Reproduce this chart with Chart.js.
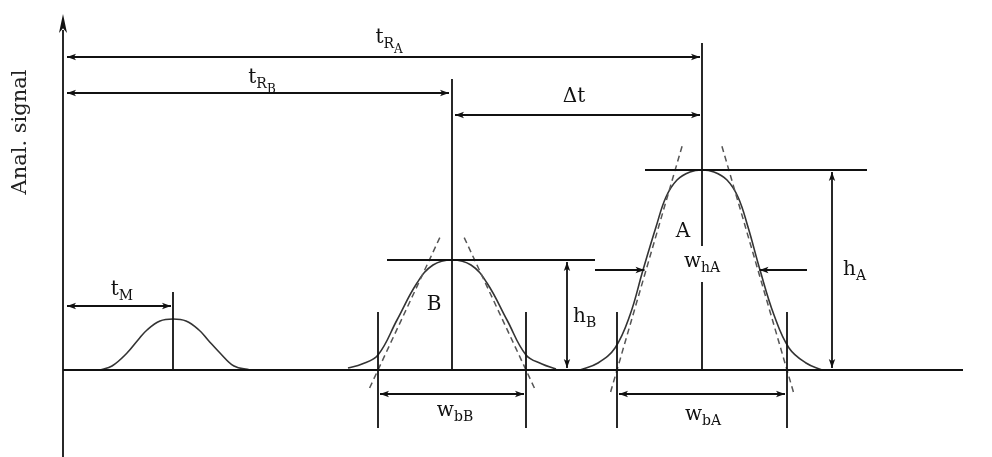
<!DOCTYPE html>
<html>
<head>
<meta charset="utf-8">
<script src="https://cdn.jsdelivr.net/npm/chart.js@4.4.1/dist/chart.umd.min.js"></script>
<style>
  html, body { margin: 0; padding: 0; background: #fff; }
  #wrap { width: 992px; height: 457px; }
</style>
</head>
<body>
<div id="wrap"><canvas id="chromChart" width="992" height="457"></canvas></div>
<script>
// Хроматограмма: время от старта (t) и высота сигнала (s)
const peakNames = ['M', 'B', 'A'];
const retentionTimes = [110, 389, 639];
const peakHeights = [51, 110, 200];
const baseWidths = [0, 148, 170];
const halfWidthA = 115;

// Контуры пиков
const peakM_t = [37, 49, 64, 75, 84, 97, 110, 123, 136, 145, 157, 171, 187];
const peakM_s = [0, 4, 17, 30, 40, 49, 51, 49, 40, 30, 17, 4, 0];
const peakB_t = [285, 299, 315, 334, 354, 370, 389, 408, 424, 444, 463, 479, 493];
const peakB_s = [2, 6, 15, 50, 87, 105, 110, 105, 87, 50, 15, 6, 1];
const peakA_t = [517, 535, 552, 567, 580, 593, 603, 614, 627, 639, 651, 664, 675, 685, 697, 711, 726, 743, 759];
const peakA_s = [0, 7, 22, 55, 100, 143, 173, 190, 198, 200, 198, 190, 173, 143, 100, 55, 22, 7, 0];

// Касательные: смещение вершины от центра, высота вершины, низ под базовой линией
const tangentApex = [0, 11, 19];
const tangentTop = [0, 135, 227];
const tangentBottom = [0, -18, -22];

function toPoints(ts, ss) {
  return ts.map((t, i) => ({ x: t, y: ss[i] }));
}

const FONT = '"DejaVu Serif", serif';
const INK = '#111';

const schemePlugin = {
  id: 'scheme',
  afterDatasetsDraw(chart) {
    const ctx = chart.ctx;
    const X = t => chart.scales.x.getPixelForValue(t);
    const Y = s => chart.scales.y.getPixelForValue(s);

    function line(t1, s1, t2, s2, dash) {
      ctx.save();
      ctx.strokeStyle = dash ? '#555' : INK;
      ctx.lineWidth = dash ? 1.5 : 1.8;
      ctx.setLineDash(dash || []);
      ctx.beginPath();
      ctx.moveTo(X(t1), Y(s1));
      ctx.lineTo(X(t2), Y(s2));
      ctx.stroke();
      ctx.restore();
    }

    // наконечник стрелки: кончик в (px, py), направление (dx, dy)
    function head(px, py, dx, dy, len, half) {
      len = len || 9; half = half || 3.2;
      ctx.save();
      ctx.fillStyle = INK;
      ctx.beginPath();
      ctx.moveTo(px, py);
      ctx.lineTo(px - dx * len - dy * half, py - dy * len + dx * half);
      ctx.lineTo(px - dx * len * 0.75, py - dy * len * 0.75);
      ctx.lineTo(px - dx * len + dy * half, py - dy * len - dx * half);
      ctx.closePath();
      ctx.fill();
      ctx.restore();
    }

    // горизонтальная размерная линия
    function dimH(s, t1, t2, gap1, gap2, heads) {
      const y = Y(s), x1 = X(t1) + gap1, x2 = X(t2) - gap2;
      ctx.save();
      ctx.strokeStyle = INK; ctx.lineWidth = 1.8;
      ctx.beginPath(); ctx.moveTo(x1, y); ctx.lineTo(x2, y); ctx.stroke();
      ctx.restore();
      if (heads !== 'right') head(x1, y, -1, 0);
      if (heads !== 'left') head(x2, y, 1, 0);
    }

    // вертикальная размерная линия (s1 - верх, s2 - низ)
    function dimV(t, s1, s2, gap) {
      const x = X(t), y1 = Y(s1) + gap, y2 = Y(s2) - gap;
      ctx.save();
      ctx.strokeStyle = INK; ctx.lineWidth = 1.8;
      ctx.beginPath(); ctx.moveTo(x, y1); ctx.lineTo(x, y2); ctx.stroke();
      ctx.restore();
      head(x, y1, 0, -1);
      head(x, y2, 0, 1);
    }

    function label(parts, t, s, align) {
      const sizes = [20, 14, 12];
      const drops = [0, 5, 10];
      let w = 0;
      parts.forEach(([txt, lv]) => {
        ctx.font = sizes[lv] + 'px ' + FONT;
        w += ctx.measureText(txt).width;
      });
      let x = align === 'left' ? X(t) : X(t) - w / 2;
      const base = Y(s);
      ctx.save();
      ctx.fillStyle = INK;
      ctx.textBaseline = 'alphabetic';
      parts.forEach(([txt, lv]) => {
        ctx.font = sizes[lv] + 'px ' + FONT;
        ctx.fillText(txt, x, base + drops[lv]);
        x += ctx.measureText(txt).width;
      });
      ctx.restore();
    }

    const [tM, tB, tA] = retentionTimes;
    const [, hB, hA] = peakHeights;

    // оси
    line(0, -87, 0, 340);
    head(X(0), Y(356), 0, -1, 19, 4);
    line(0, 0, 900, 0);

    // касательные (пунктир)
    [1, 2].forEach(i => {
      const c = retentionTimes[i], w = baseWidths[i] / 2;
      [-1, 1].forEach(sg => {
        const t0 = c + sg * w, t1 = c + sg * tangentApex[i];
        const k = tangentBottom[i] / tangentTop[i];
        line(t0 + (t1 - t0) * k, tangentBottom[i], t1, tangentTop[i], [6, 4]);
      });
    });

    // вертикали центров пиков
    line(tM, 0, tM, 78);
    line(tB, 0, tB, 291);
    line(tA, 0, tA, 88);
    line(tA, 124, tA, 327);

    // линии вершин
    line(324, hB, 532, hB);
    line(582, hA, 804, hA);

    // ширины у основания
    [1, 2].forEach(i => {
      const c = retentionTimes[i], w = baseWidths[i] / 2;
      line(c - w, -58, c - w, 58);
      line(c + w, -58, c + w, 58);
      dimH(-24, c - w, c + w, 2, 2);
    });

    // времена удерживания
    dimH(313, 0, tA, 4, 2);
    dimH(277, 0, tB, 4, 3);
    dimH(255, tB, tA, 3, 2);
    dimH(64, 0, tM, 4, 2);

    // полуширина A
    dimH(hA / 2, 532, tA - halfWidthA / 2, 0, 0, 'right');
    dimH(hA / 2, tA + halfWidthA / 2, 744, 0, 0, 'left');

    // высоты
    dimV(504, hB, 0, 2);
    dimV(769, hA, 0, 2);

    // подписи
    label([['t', 0], ['R', 1], ['A', 2]], 326, 327);
    label([['t', 0], ['R', 1], ['B', 2]], 199, 287);
    label([['\u0394t', 0]], 511, 268);
    label([['t', 0], ['M', 1]], 59, 75);
    label([['B', 0]], 371, 60);
    label([['A', 0]], 620, 133);
    label([['w', 0], ['h', 1], ['A', 1]], 639, 103);
    label([['h', 0], ['A', 1]], 780, 95, 'left');
    label([['h', 0], ['B', 1]], 510, 48, 'left');
    label([['w', 0], ['b', 1], ['A', 1]], 640, -50);
    label([['w', 0], ['b', 1], ['B', 1]], 392, -46);

    // подпись оси
    ctx.save();
    ctx.translate(X(-42), Y(238));
    ctx.rotate(-Math.PI / 2);
    ctx.font = '21px ' + FONT;
    ctx.fillStyle = '#222';
    ctx.textAlign = 'center';
    ctx.textBaseline = 'middle';
    ctx.fillText('Anal. signal', 0, 0);
    ctx.restore();
  }
};

const ctx = document.getElementById('chromChart').getContext('2d');
const curveStyle = {
  showLine: true,
  borderColor: '#333',
  borderWidth: 1.6,
  pointRadius: 0,
  tension: 0.4,
  fill: false
};

new Chart(ctx, {
  type: 'scatter',
  data: {
    datasets: [
      { label: peakNames[0], data: toPoints(peakM_t, peakM_s), ...curveStyle },
      { label: peakNames[1], data: toPoints(peakB_t, peakB_s), ...curveStyle },
      { label: peakNames[2], data: toPoints(peakA_t, peakA_s), ...curveStyle }
    ]
  },
  options: {
    responsive: false,
    animation: false,
    devicePixelRatio: 1,
    layout: { padding: 0 },
    scales: {
      x: { type: 'linear', min: -63, max: 929, display: false },
      y: { type: 'linear', min: -87, max: 370, display: false }
    },
    plugins: {
      legend: { display: false },
      tooltip: { enabled: false }
    }
  },
  plugins: [schemePlugin]
});
</script>
</body>
</html>
